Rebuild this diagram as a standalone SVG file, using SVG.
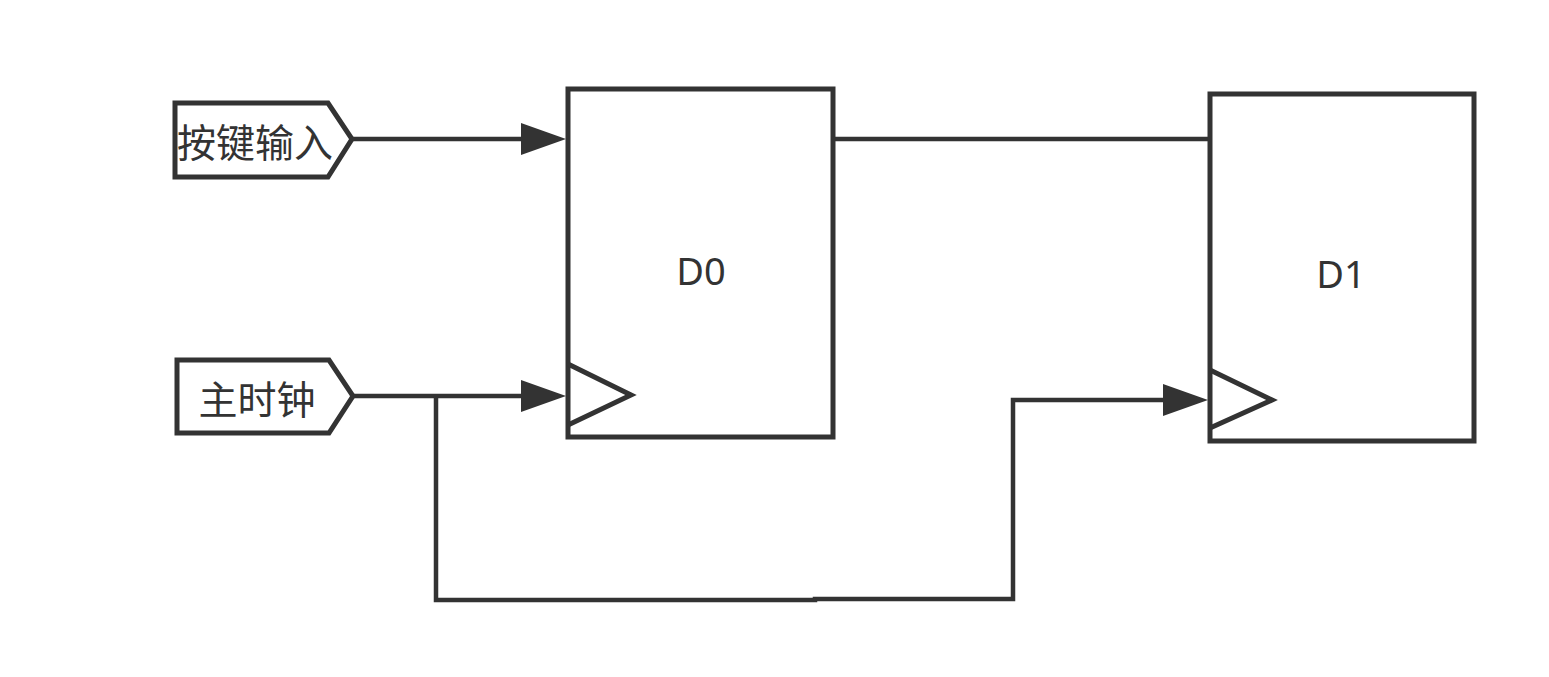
<svg xmlns="http://www.w3.org/2000/svg" width="1549" height="677" viewBox="0 0 1549 677">
<style>
.sh{fill:#fff;stroke:#333;stroke-width:5}
.tri{fill:none;stroke:#333;stroke-width:5}
.ln{fill:none;stroke:#333;stroke-width:4.5}
.t{font-family:"Noto Sans CJK SC","Noto Sans",sans-serif;font-size:39px;fill:#333;text-anchor:middle;dominant-baseline:central}
.d{font-family:"Noto Sans","Noto Sans CJK SC",sans-serif;font-size:38px;fill:#333;text-anchor:middle;dominant-baseline:central}
</style>
<defs>
<marker id="arr" markerUnits="userSpaceOnUse" markerWidth="46" markerHeight="34" viewBox="0 0 46 34" refX="0" refY="17" orient="auto">
<path d="M0,1 L45,17 L0,33 Z" fill="#333"/>
</marker>
</defs>
<rect width="1549" height="677" fill="#fff"/>
<g id="connectors">
<path class="ln" d="M352,139 H521" marker-end="url(#arr)"/>
<path class="ln" d="M353,396 H521" marker-end="url(#arr)"/>
<path class="ln" d="M833,139 H1210"/>
<path class="ln" d="M436,396 V600 H815 V599 H1013 V400 H1163" marker-end="url(#arr)"/>
</g>
<g id="in1">
<path class="sh" d="M175,103 H328 L352,139 L328,177 H175 Z"/>
<text class="t" x="255" y="140">按键输入</text>
</g>
<g id="in2">
<path class="sh" d="M177,360 H329 L353,396 L329,433 H177 Z"/>
<text class="t" x="257" y="397">主时钟</text>
</g>
<g id="D0">
<rect class="sh" x="568" y="89" width="265" height="348"/>
<path class="tri" d="M568,364 L631,395 L568,425"/>
<text class="d" x="701" y="270">D0</text>
</g>
<g id="D1">
<rect class="sh" x="1210" y="94" width="264" height="347"/>
<path class="tri" d="M1210,370 L1272,400 L1210,428"/>
<text class="d" x="1341" y="273">D1</text>
</g>
</svg>
